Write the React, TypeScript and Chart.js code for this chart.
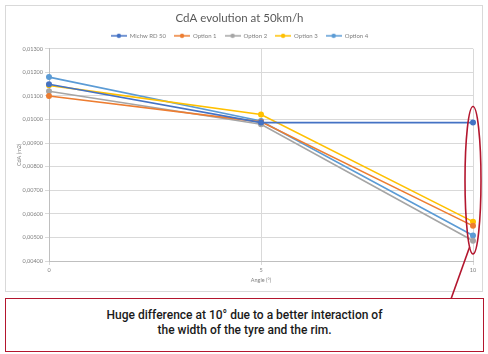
import React, { useEffect, useRef } from "react";
import { Chart, registerables } from "chart.js";

Chart.register(...registerables);

const categories = ["0", "5", "10"];
const seriesNames = ["Michw RD 50", "Option 1", "Option 2", "Option 3", "Option 4"];
const michelin = [0.0115, 0.00987, 0.00987];
const option1 = [0.011, 0.0099, 0.00549];
const option2 = [0.0112, 0.0098, 0.00486];
const option3 = [0.01145, 0.01021, 0.00567];
const option4 = [0.0118, 0.00994, 0.00508];
const seriesValues = [michelin, option1, option2, option3, option4];
const seriesColors = ["#4472C4", "#ED7D31", "#A5A5A5", "#FFC000", "#5B9BD5"];

const yMin = 0.004;
const yMax = 0.013;
const yStep = 0.001;

const annCategory = 2;
const annTop = 0.01055;
const annBottom = 0.0043;

const RED = "#b3162e";
const FONT = "Lato";

function legendImage(color: string) {
  const c = document.createElement("canvas");
  c.width = 16;
  c.height = 6;
  const ctx = c.getContext("2d")!;
  ctx.strokeStyle = color;
  ctx.lineWidth = 1.5;
  ctx.beginPath();
  ctx.moveTo(0, 3);
  ctx.lineTo(16, 3);
  ctx.stroke();
  ctx.fillStyle = color;
  ctx.beginPath();
  ctx.arc(8, 3, 2.2, 0, Math.PI * 2);
  ctx.fill();
  return c;
}

const annotationPlugin = {
  id: "ellipseNote",
  afterDraw(chart: any) {
    const { ctx, scales } = chart;
    const x = scales.x.getPixelForValue(annCategory);
    const yT = scales.y.getPixelForValue(annTop);
    const yB = scales.y.getPixelForValue(annBottom);
    const cy = (yT + yB) / 2;
    const ry = (yB - yT) / 2;
    const rx = 8;
    ctx.save();
    ctx.strokeStyle = RED;
    ctx.lineWidth = 1.6;
    ctx.beginPath();
    ctx.ellipse(x, cy, rx, ry, 0, 0, Math.PI * 2);
    ctx.stroke();
    const t = (115 * Math.PI) / 180;
    const sx = x + rx * Math.cos(t);
    const sy = cy + ry * Math.sin(t);
    ctx.beginPath();
    ctx.moveTo(sx, sy);
    ctx.lineTo(451, 299);
    ctx.stroke();
    ctx.restore();
  },
};

export default function App() {
  const ref = useRef<HTMLCanvasElement | null>(null);

  useEffect(() => {
    if (!ref.current) return;
    const imgs = seriesColors.map(legendImage);
    const chart = new Chart(ref.current, {
      type: "line",
      data: {
        labels: categories,
        datasets: seriesValues.map((vals, i) => ({
          label: seriesNames[i],
          data: vals,
          borderColor: seriesColors[i],
          backgroundColor: seriesColors[i],
          borderWidth: 1.6,
          pointRadius: 2.2,
          pointHoverRadius: 2.2,
          tension: 0,
        })),
      },
      options: {
        responsive: false,
        animation: false,
        layout: { padding: { top: 0, left: 6, right: 15, bottom: 62 } },
        plugins: {
          tooltip: { enabled: false },
          title: {
            display: true,
            text: "CdA evolution at 50km/h",
            color: "#595959",
            font: { family: FONT, size: 11.5, weight: "normal" },
            padding: { top: 11, bottom: 0 },
          },
          legend: {
            position: "top",
            labels: {
              usePointStyle: true,
              pointStyleWidth: 16,
              padding: 8,
              color: "#7f7f7f",
              font: { family: FONT, size: 6 },
              generateLabels(c: any) {
                const items = (Chart as any).defaults.plugins.legend.labels.generateLabels(c);
                return items.map((it: any, i: number) => ({ ...it, pointStyle: imgs[i] }));
              },
            },
          },
        },
        scales: {
          x: {
            type: "category",
            offset: false,
            grid: { color: "#d9d9d9", tickLength: 4, drawTicks: true },
            border: { color: "#bfbfbf" },
            ticks: { color: "#7f7f7f", font: { family: FONT, size: 5.5 }, padding: 2, maxRotation: 0 },
            title: {
              display: true,
              text: "Angle (°)",
              color: "#7f7f7f",
              font: { family: FONT, size: 5.5 },
              padding: { top: 0, bottom: 8 },
            },
            afterFit(scale: any) {
              scale.height = 31;
            },
          },
          y: {
            type: "linear",
            min: yMin,
            max: yMax,
            grid: { color: "#d9d9d9", tickLength: 4 },
            border: { color: "#bfbfbf" },
            ticks: {
              stepSize: yStep,
              color: "#7f7f7f",
              font: { family: FONT, size: 5.5 },
              padding: 2,
              callback: (v: any) => Number(v).toFixed(5).replace(".", ","),
            },
            title: {
              display: true,
              text: "CdA (m2)",
              color: "#7f7f7f",
              font: { family: FONT, size: 5.5 },
              padding: { top: 10, bottom: 0 },
            },
            afterFit(scale: any) {
              scale.width = 43;
            },
          },
        },
      } as any,
      plugins: [annotationPlugin],
    });
    return () => chart.destroy();
  }, []);

  return (
    <div style={{ position: "absolute", left: 0, top: 0, width: 488, height: 354, background: "#fff", overflow: "hidden" }}>
      <div
        style={{
          position: "absolute",
          left: 5,
          top: 5,
          width: 478,
          height: 287,
          border: "1px solid #d9d9d9",
          boxSizing: "border-box",
        }}
      />
      <canvas ref={ref} width={488} height={354} style={{ position: "absolute", left: 0, top: 0, width: 488, height: 354 }} />
      <div
        style={{
          position: "absolute",
          left: 5,
          top: 298,
          width: 479,
          height: 54,
          border: `1.5px solid ${RED}`,
          boxSizing: "border-box",
          background: "#fff",
          fontFamily: "Roboto, sans-serif",
          fontSize: 12,
          fontWeight: 500,
          color: "#1a1a1a",
          textAlign: "center",
          lineHeight: "15px",
          paddingTop: 9,
        }}
      >
        Huge difference at 10° due to a better interaction of
        <br />
        the width of the tyre and the rim.
      </div>
    </div>
  );
}
